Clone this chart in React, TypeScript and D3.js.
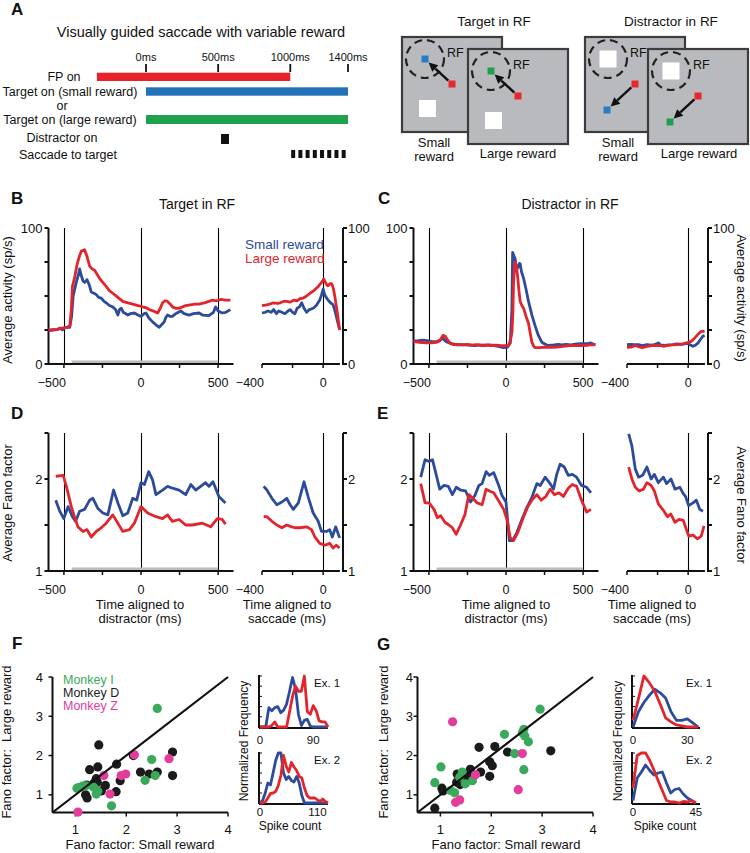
import React from "react";
import * as d3 from "d3";

type Pt = [number, number];
const FONT = "'Liberation Sans', Arial, Helvetica, sans-serif";
const RED = "#e2252c";
const BLUE = "#2c4b9d";
const GREEN_S = "#3aa95c";
const BLACK_S = "#1b1b1b";
const MAG_S = "#e33c9b";

// ---------- Panel A data ----------
const timelineTicks = [0, 500, 1000, 1400];
const fpOn: [number, number] = [-340, 1000];
const targetOn: [number, number] = [0, 1400];
const distractorOn: [number, number] = [520, 575];
const saccadeTimes = [1020, 1070, 1120, 1170, 1220, 1270, 1320, 1370];

// ---------- Panel B (activity, target in RF) ----------
const bSmallL: Pt[] = [[-600,24.5],[-570,25],[-540,25.5],[-525,26.5],[-510,25],[-490,27],[-462,27],[-450,35],[-440,50],[-420,60],[-405,66],[-398,70],[-390,66],[-376,61],[-365,60],[-350,62],[-335,58],[-323,53],[-305,52],[-290,51],[-275,49],[-258,48.5],[-240,46],[-226,45],[-205,43],[-183,42],[-165,40],[-150,36],[-140,40],[-128,41],[-115,38],[-85,36],[-70,37],[-43,37.5],[-20,36],[0,35],[20,37],[32,37.5],[50,34],[75,31],[95,29],[118,27],[135,29],[151,31],[160,34],[172,36],[190,35],[204,35],[225,37],[258,39],[280,37],[312,36],[340,37],[376,37.5],[400,36],[440,35.5],[470,38],[484,42],[500,39],[527,37.5],[550,38],[580,40]];
const bLargeL: Pt[] = [[-600,25],[-540,25.5],[-505,26.5],[-480,27],[-462,28],[-452,40],[-445,57],[-430,64],[-413,74],[-400,79],[-387,83],[-366,84],[-350,79],[-333,72],[-318,70],[-301,69],[-285,66],[-269,63],[-248,60],[-226,57],[-205,54],[-183,52],[-150,49],[-118,46],[-85,45],[-54,44],[-20,43],[11,42],[30,41.5],[54,40],[80,39],[108,37.5],[125,41],[140,45],[155,46.5],[172,46],[190,44],[204,42],[225,41],[247,41],[270,42],[290,43],[320,43.5],[350,44],[376,44],[410,45],[440,46],[462,47],[490,46.5],[520,47.5],[548,47],[580,47]];
const bSmallR: Pt[] = [[-400,37.5],[-380,38],[-360,39],[-340,38],[-324,40],[-305,37],[-290,39],[-270,38],[-250,37],[-230,39],[-216,40],[-200,38],[-185,37],[-170,41],[-155,42],[-140,45],[-125,41],[-108,38],[-90,40],[-65,41],[-45,43],[-22,47],[-10,51],[0,55],[10,51],[20,49],[32,47],[48,45],[65,43.6],[80,38],[95,31],[108,25]];
const bLargeR: Pt[] = [[-400,43],[-370,43.5],[-350,44],[-324,45],[-300,44.5],[-280,45],[-260,46],[-238,46],[-215,45.5],[-190,47],[-170,46.5],[-151,48],[-130,48.5],[-108,50],[-86,52],[-60,54],[-32,57],[-10,60],[4,62.5],[15,60],[25,58],[32,57.5],[45,59],[55,59],[60,58],[68,55],[76,50],[90,40],[108,25]];

// ---------- Panel C (activity, distractor in RF) ----------
const cSmallL: Pt[] = [[-600,17],[-570,17.2],[-540,17.5],[-510,17.2],[-480,16.5],[-450,16.5],[-420,18],[-409,19],[-395,17],[-381,16],[-350,15],[-320,14],[-290,14.2],[-260,14],[-230,13.8],[-200,13.6],[-170,14],[-140,13.6],[-110,14],[-80,13.6],[-50,13],[-15,12],[10,12.5],[28,15.5],[38,40],[43,82],[50,80],[60,77],[65,72],[72,70],[80,72],[88,74],[92,73.5],[100,68],[114,63],[130,55],[146,46],[168,36],[189,28],[210,21],[232,16],[255,14.5],[275,13.6],[310,14],[340,14.5],[360,14],[390,14.5],[420,14],[460,14.8],[490,15],[530,15],[550,15.5],[570,14.5],[580,14.3]];
const cLargeL: Pt[] = [[-600,16.5],[-560,16],[-520,15.5],[-480,15.5],[-450,16],[-430,17],[-420,19],[-409,21],[-395,20.5],[-381,18],[-360,15],[-340,14.3],[-310,14.5],[-280,14],[-250,14.5],[-220,13.8],[-190,14.2],[-160,13.6],[-130,14],[-100,13.6],[-70,13.8],[-40,13.6],[-10,13.5],[17,13.6],[30,18],[39,23.5],[45,40],[49,60],[55,70],[60,75],[67,72],[75,65],[83,55],[92,46],[103,43],[114,41],[130,35],[146,30],[158,22],[168,16],[180,13],[189,12],[220,12],[260,12.5],[297,12.3],[330,12.5],[370,13],[410,13.6],[450,13.5],[490,13.6],[530,13.8],[560,14.3],[580,14]];
const cSmallR: Pt[] = [[-400,14.3],[-380,14.5],[-350,14.3],[-324,14.3],[-300,13.6],[-270,14.3],[-240,13.8],[-215,14.5],[-195,15.5],[-180,14],[-151,13.6],[-125,14],[-100,14.3],[-76,14.8],[-40,14.5],[-20,15],[0,15],[15,14],[32,13],[50,14],[65,15.5],[80,18],[97,20.5],[108,21]];
const cLargeR: Pt[] = [[-400,12.3],[-370,12.5],[-345,13.6],[-320,12.5],[-300,12],[-270,13],[-240,13.6],[-210,13.5],[-185,13.6],[-160,13],[-130,13.8],[-100,14],[-75,14.3],[-50,14.5],[-30,14.8],[-11,15.5],[5,16],[22,16.8],[38,18.5],[54,20.5],[70,22.5],[86,24],[108,24]];

// ---------- Panel D (Fano, target in RF) ----------
const dSmallL: Pt[] = [[-553,1.77],[-527,1.65],[-501,1.57],[-473,1.70],[-445,1.59],[-424,1.54],[-398,1.65],[-366,1.67],[-333,1.77],[-312,1.79],[-280,1.68],[-247,1.63],[-215,1.61],[-178,1.88],[-150,1.74],[-118,1.60],[-86,1.63],[-54,1.79],[-28,1.77],[0,1.96],[22,1.94],[50,2.08],[75,1.99],[97,1.83],[140,1.88],[172,1.92],[204,1.90],[247,1.88],[290,1.83],[323,1.94],[355,1.88],[387,1.92],[419,1.96],[441,1.92],[467,1.97],[505,1.81],[548,1.74]];
const dLargeL: Pt[] = [[-553,2.03],[-505,2.04],[-484,1.92],[-452,1.70],[-430,1.58],[-409,1.48],[-376,1.43],[-350,1.45],[-323,1.37],[-290,1.43],[-258,1.47],[-226,1.52],[-183,1.61],[-150,1.52],[-118,1.43],[-75,1.45],[-43,1.52],[0,1.70],[43,1.63],[97,1.59],[140,1.57],[172,1.61],[204,1.54],[247,1.56],[290,1.50],[333,1.50],[398,1.52],[452,1.48],[495,1.57],[527,1.56],[548,1.51]];
const dSmallR: Pt[] = [[-389,1.92],[-368,1.88],[-335,1.79],[-303,1.72],[-270,1.75],[-238,1.79],[-216,1.72],[-195,1.67],[-162,1.74],[-125,1.97],[-97,1.80],[-65,1.63],[-32,1.54],[-11,1.43],[22,1.43],[43,1.45],[60,1.37],[82,1.48],[108,1.36]];
const dLargeR: Pt[] = [[-389,1.59],[-368,1.59],[-335,1.54],[-303,1.50],[-270,1.47],[-238,1.50],[-205,1.48],[-184,1.47],[-151,1.47],[-108,1.48],[-76,1.45],[-54,1.37],[-22,1.30],[11,1.28],[43,1.30],[65,1.25],[86,1.28],[108,1.25]];

// ---------- Panel E (Fano, distractor in RF) ----------
const eSmallL: Pt[] = [[-553,2.02],[-525,2.21],[-499,2.19],[-477,2.21],[-456,2.07],[-430,1.89],[-402,1.93],[-374,1.92],[-348,1.83],[-323,1.91],[-295,1.88],[-262,1.87],[-230,1.75],[-202,1.82],[-176,1.93],[-155,1.95],[-129,2.08],[-108,2.04],[-80,2.07],[-47,1.93],[-26,1.82],[0,1.75],[22,1.33],[43,1.33],[71,1.42],[103,1.56],[135,1.69],[168,1.80],[200,1.95],[222,1.93],[254,2.02],[286,1.95],[308,1.89],[329,2.05],[351,2.16],[378,2.13],[404,2.04],[430,2.05],[458,2.02],[490,1.93],[523,1.91],[551,1.85]];
const eLargeL: Pt[] = [[-553,1.95],[-525,1.74],[-499,1.74],[-467,1.67],[-445,1.58],[-424,1.60],[-396,1.53],[-370,1.50],[-348,1.47],[-323,1.40],[-295,1.50],[-267,1.61],[-241,1.83],[-215,1.79],[-187,1.74],[-155,1.72],[-129,1.89],[-108,1.87],[-80,1.85],[-47,1.76],[-15,1.67],[6,1.56],[28,1.36],[49,1.33],[77,1.42],[114,1.59],[142,1.70],[168,1.77],[200,1.83],[228,1.77],[258,1.81],[286,1.89],[314,1.83],[344,1.85],[372,1.81],[404,1.90],[430,1.94],[458,1.92],[490,1.77],[523,1.64],[551,1.67]];
const eSmallR: Pt[] = [[-389,2.49],[-368,2.36],[-346,2.11],[-324,2.02],[-298,2.04],[-270,2.13],[-242,2.0],[-221,2.05],[-195,1.96],[-162,2.02],[-141,1.95],[-112,2.0],[-86,1.89],[-54,1.91],[-32,1.84],[-17,1.81],[4,1.71],[32,1.74],[54,1.77],[76,1.67],[97,1.65]];
const eLargeR: Pt[] = [[-389,2.13],[-368,2.0],[-346,1.91],[-320,1.87],[-292,1.89],[-270,1.96],[-242,1.93],[-221,1.87],[-195,1.73],[-162,1.66],[-135,1.59],[-114,1.62],[-86,1.53],[-60,1.56],[-32,1.55],[-11,1.45],[4,1.38],[32,1.39],[60,1.35],[86,1.38],[104,1.49]];

// ---------- Panel F scatter ----------
const fMonkeyI: Pt[] = [[2.61,3.20],[2.50,1.90],[2.37,1.37],[2.57,1.49],[1.03,1.17],[1.08,1.19],[1.14,1.22],[1.20,1.23],[1.36,1.19],[1.41,1.02],[1.44,1.09],[1.71,0.72]];
const fMonkeyD: Pt[] = [[1.46,2.27],[2.14,2.00],[2.91,2.09],[2.91,1.49],[2.28,1.58],[2.45,1.53],[2.61,1.58],[1.81,1.78],[1.28,1.64],[1.44,1.71],[1.41,1.41],[1.43,1.32],[1.22,1.25],[1.20,1.00],[1.23,0.92],[1.59,1.24],[1.51,1.10],[1.88,1.36],[1.80,1.08],[1.36,1.29]];
const fMonkeyZ: Pt[] = [[1.05,0.56],[2.84,1.92],[1.99,1.53],[1.90,1.49],[1.56,1.49],[1.68,1.02],[2.16,2.02]];

// ---------- Panel G scatter ----------
const gMonkeyI: Pt[] = [[2.96,3.18],[2.64,2.67],[2.61,2.58],[2.66,2.50],[2.73,2.35],[2.26,2.54],[2.46,2.05],[2.64,1.64],[1.01,1.71],[0.89,1.31],[1.20,1.11],[1.28,1.05],[1.43,1.58],[1.49,1.28],[1.63,1.36],[1.38,1.45]];
const gMonkeyD: Pt[] = [[3.17,2.12],[2.32,2.09],[2.07,2.23],[1.76,2.21],[1.97,1.84],[2.02,1.74],[1.97,1.47],[1.79,1.58],[1.59,1.65],[1.58,1.56],[1.33,1.53],[1.32,1.32],[1.39,1.26],[1.03,1.17],[1.05,1.10],[0.89,0.66],[1.50,1.45]];
const gMonkeyZ: Pt[] = [[1.24,2.86],[2.61,2.05],[2.53,1.13],[1.30,0.81],[1.38,0.87],[1.69,1.51]];

// ---------- Histogram insets ----------
const fEx1Bins = [0,5,10,15,20,25,30,35,40,45,50,55,60,65,70,75,80,85,90,95,100,105,110,115];
const fEx1Small = [0,0,0.02,0.38,0.32,0.38,0.4,0.28,0.33,0.45,0.7,0.97,0.75,0.25,0.03,0.13,0.15,0.02,0,0,0,0,0,0];
const fEx1Large = [0,0,0,0,0.03,0.1,0,0,0,0,0.3,0.6,0.8,0.7,0.7,1.0,0.3,0.25,0.42,0.32,0.12,0.1,0.1,0];
const fEx2Bins = [0,5,10,15,20,25,30,35,40,45,50,55,60,65,70,75,80,85,90,95,100,105,110,115,120,125,130];
const fEx2Small = [0,0.05,0.2,0.4,0.36,0.6,0.85,1.0,1.0,0.6,0.47,0.53,0.45,0.42,0.53,0.4,0.15,0,0,0,0,0,0,0,0,0,0];
const fEx2Large = [0,0,0.02,0.1,0.19,0.2,0.23,0.35,0.55,0.95,0.74,0.62,0.81,0.72,0.65,0.53,0.5,0.3,0.15,0.1,0.1,0.1,0.06,0.03,0.08,0.03,0];
const gEx1Bins = [0,3,6,9,12,15,18,21,24,27,30,33,36];
const gEx1Small = [0,0.3,0.48,0.62,0.74,0.67,0.57,0.3,0.13,0.13,0.16,0.08,0];
const gEx1Large = [0.13,0.55,1.0,0.87,0.7,0.45,0.18,0.1,0.04,0.02,0,0,0];
const gEx2Bins = [0,3,6,9,12,15,18,21,24,27,30,33,36,39,42,45];
const gEx2Small = [0.05,0.5,0.62,0.76,0.65,0.56,0.6,0.62,0.4,0.2,0.27,0.29,0.18,0.1,0.05,0];
const gEx2Large = [0.3,0.95,1.0,1.0,0.85,0.66,0.45,0.25,0.05,0.02,0.02,0,0.03,0.02,0.05,0];

const fmt = (v: number) => (v < 0 ? "\u2212" + Math.abs(v) : String(v));

function T(props: any) {
  const { children, ...rest } = props;
  return (
    <text fontFamily={FONT} fill="#111" {...rest}>
      {children}
    </text>
  );
}

function TimePanel(p: {
  ox: number; yTop: number; yBot: number; yDomain: [number, number];
  yTicks: number[]; yLabeled: number[];
  sL: Pt[]; lL: Pt[]; sR: Pt[]; lR: Pt[];
}) {
  const xl = d3.scaleLinear().domain([-600, 600]).range([48.5 + p.ox, 233.5 + p.ox]);
  const xr = d3.scaleLinear().domain([-400, 130]).range([262 + p.ox, 343 + p.ox]);
  const y = d3.scaleLinear().domain(p.yDomain).range([p.yBot, p.yTop]);
  const lineL = d3.line<Pt>().x((d) => xl(d[0])).y((d) => y(d[1]));
  const lineR = d3.line<Pt>().x((d) => xr(d[0])).y((d) => y(d[1]));
  const xLeftTicks = [-500, -250, 0, 250, 500];
  const xLeftLabels = [-500, 0, 500];
  const xRightTicks = [-400, -200, 0];
  const xRightLabels = [-400, 0];
  const yAxisX = xl(-600);
  const yAxisR = xr(130);
  const lab = (v: number) => (Number.isInteger(v) ? String(v) : v.toFixed(1));
  const LW = 2.8;
  return (
    <g>
      {/* guide lines */}
      {[-500, 0, 500].map((t) => (
        <line key={"gl" + t} x1={Math.round(xl(t)) + 0.5} x2={Math.round(xl(t)) + 0.5} y1={p.yTop} y2={p.yBot} stroke="#000" strokeWidth={1.1} />
      ))}
      <line x1={Math.round(xr(0)) + 0.5} x2={Math.round(xr(0)) + 0.5} y1={p.yTop} y2={p.yBot} stroke="#000" strokeWidth={1.1} />
      {/* gray epoch bar */}
      <rect x={xl(-450)} y={p.yBot - 3.5} width={xl(500) - xl(-450)} height={3} fill="#bcbcbc" />
      {/* left axes */}
      <line x1={yAxisX} x2={yAxisX} y1={p.yTop} y2={p.yBot + 1} stroke="#111" strokeWidth={2} />
      <line x1={yAxisX - 1} x2={xl(600)} y1={p.yBot} y2={p.yBot} stroke="#111" strokeWidth={2} />
      {p.yTicks.map((t) => (
        <line key={"yt" + t} x1={yAxisX - 4} x2={yAxisX} y1={y(t)} y2={y(t)} stroke="#111" strokeWidth={2} />
      ))}
      {p.yLabeled.map((t) => (
        <T key={"yl" + t} x={yAxisX - 6} y={y(t) + 4.5} fontSize={13} textAnchor="end">{lab(t)}</T>
      ))}
      {xLeftTicks.map((t) => (
        <line key={"xt" + t} x1={xl(t)} x2={xl(t)} y1={p.yBot} y2={p.yBot + 4} stroke="#111" strokeWidth={1.5} />
      ))}
      {xLeftLabels.map((t) => (
        <T key={"xl" + t} x={t < 0 ? xl(t) + 2 : xl(t)} y={p.yBot + 22.5} fontSize={12.5} textAnchor={t < 0 ? "end" : "middle"}>{fmt(t)}</T>
      ))}
      {/* right axes */}
      <line x1={xr(-400)} x2={xr(110)} y1={p.yBot} y2={p.yBot} stroke="#111" strokeWidth={2} />
      <line x1={yAxisR} x2={yAxisR} y1={p.yTop} y2={p.yBot + 1} stroke="#111" strokeWidth={2} />
      {p.yTicks.map((t) => (
        <line key={"ryt" + t} x1={yAxisR} x2={yAxisR + 4} y1={y(t)} y2={y(t)} stroke="#111" strokeWidth={2} />
      ))}
      {p.yLabeled.map((t) => (
        <T key={"ryl" + t} x={yAxisR + 5} y={y(t) + 4.5} fontSize={13} textAnchor="start">{lab(t)}</T>
      ))}
      {xRightTicks.map((t) => (
        <line key={"rxt" + t} x1={xr(t)} x2={xr(t)} y1={p.yBot} y2={p.yBot + 4} stroke="#111" strokeWidth={1.5} />
      ))}
      {xRightLabels.map((t) => (
        <T key={"rxl" + t} x={t < 0 ? xr(t) + 2 : xr(t)} y={p.yBot + 22.5} fontSize={12.5} textAnchor={t < 0 ? "end" : "middle"}>{fmt(t)}</T>
      ))}
      {/* data */}
      <path d={lineL(p.sL) || ""} fill="none" stroke={BLUE} strokeWidth={LW} strokeLinejoin="round" />
      <path d={lineL(p.lL) || ""} fill="none" stroke={RED} strokeWidth={LW} strokeLinejoin="round" />
      <path d={lineR(p.sR) || ""} fill="none" stroke={BLUE} strokeWidth={LW} strokeLinejoin="round" />
      <path d={lineR(p.lR) || ""} fill="none" stroke={RED} strokeWidth={LW} strokeLinejoin="round" />
    </g>
  );
}

function Scatter(p: { ox: number; I: Pt[]; D: Pt[]; Z: Pt[]; labelRight: number; legend: boolean }) {
  const x = d3.scaleLinear().domain([0.55, 4]).range([52.5 + p.ox, 228 + p.ox]);
  const y = d3.scaleLinear().domain([0.55, 4]).range([812.5, 677]);
  const ticks = [1, 2, 3, 4];
  const dots = (arr: Pt[], c: string, k: string) =>
    arr.map((d, i) => <circle key={k + i} cx={x(d[0])} cy={y(d[1])} r={4.6} fill={c} />);
  return (
    <g>
      <line x1={x(0.55)} x2={x(0.55)} y1={y(4)} y2={y(0.55)} stroke="#111" strokeWidth={2} />
      <line x1={x(0.55)} x2={x(4)} y1={y(0.55)} y2={y(0.55)} stroke="#111" strokeWidth={2} />
      {ticks.map((t) => (
        <g key={"t" + t}>
          <line x1={x(t)} x2={x(t)} y1={y(0.55)} y2={y(0.55) + 4} stroke="#111" strokeWidth={1.5} />
          <line x1={x(0.55) - 4} x2={x(0.55)} y1={y(t)} y2={y(t)} stroke="#111" strokeWidth={1.5} />
          <T x={x(t)} y={834} fontSize={13} textAnchor="middle">{t}</T>
          <T x={p.labelRight} y={y(t) + 4.5} fontSize={13} textAnchor="end">{t}</T>
        </g>
      ))}
      {dots(p.D, BLACK_S, "d")}
      {dots(p.I, GREEN_S, "i")}
      {dots(p.Z, MAG_S, "z")}
      <line x1={x(0.55)} y1={y(0.55)} x2={x(4)} y2={y(4)} stroke="#111" strokeWidth={2.2} />
      {p.legend && (
        <g>
          <T x={63 + p.ox} y={684} fontSize={12.5} fill={GREEN_S}>Monkey I</T>
          <T x={63 + p.ox} y={697} fontSize={12.5} fill={BLACK_S}>Monkey D</T>
          <T x={63 + p.ox} y={710} fontSize={12.5} fill={MAG_S}>Monkey Z</T>
        </g>
      )}
    </g>
  );
}

function Hist(p: { x0: number; x1: number; yTop: number; yBot: number; xMax: number; bins: number[]; small: number[]; large: number[]; tickR: number; ex: string; lblY: number }) {
  const x = d3.scaleLinear().domain([0, p.xMax]).range([p.x0 + 1, p.x1]);
  const y = d3.scaleLinear().domain([0, 1]).range([p.yBot - 1, p.yTop + 1]);
  const ln = d3.line<number>().x((_, i) => x(p.bins[i])).y((d) => y(d));
  const yt = [0.2, 0.4, 0.6, 0.8, 1.0];
  return (
    <g>
      <line x1={p.x0} x2={p.x0} y1={p.yTop} y2={p.yBot} stroke="#111" strokeWidth={2} />
      <line x1={p.x0} x2={p.x1} y1={p.yBot} y2={p.yBot} stroke="#111" strokeWidth={2} />
      {yt.map((t) => (
        <line key={t} x1={p.x0} x2={p.x0 + 3} y1={y(t)} y2={y(t)} stroke="#111" strokeWidth={1} />
      ))}
      <path d={ln(p.small) || ""} fill="none" stroke={BLUE} strokeWidth={2.8} strokeLinejoin="round" />
      <path d={ln(p.large) || ""} fill="none" stroke={RED} strokeWidth={2.8} strokeLinejoin="round" />
      <T x={x(0)} y={p.lblY} fontSize={11.5} textAnchor="middle">0</T>
      <T x={x(p.tickR)} y={p.lblY} fontSize={11.5} textAnchor="middle">{p.tickR}</T>
      <T x={p.x1 - 14} y={p.yTop + 12} fontSize={11.5} textAnchor="start">{p.ex}</T>
    </g>
  );
}

function Diagram(p: { bx: number; by: number; kind: "target" | "distractor"; tColor: string }) {
  const W = 100, H = 95;
  const cx = p.bx + 23, cy = p.by + 22;
  const fx = p.bx + 50, fy = p.by + 47;
  const tx = p.kind === "target" ? cx : p.bx + 22;
  const ty = p.kind === "target" ? cy : p.by + 73;
  const wx = p.kind === "target" ? p.bx + 17 : cx - 8.5;
  const wy = p.kind === "target" ? p.by + 63 : cy - 8.5;
  const dx = tx - fx, dy = ty - fy;
  const L = Math.hypot(dx, dy);
  const ux = dx / L, uy = dy / L;
  const sx = fx + ux * 5, sy = fy + uy * 5;
  const ex = tx - ux * 5, ey = ty - uy * 5;
  const hx = ex - ux * 9, hy = ey - uy * 9;
  const px = -uy, py = ux;
  return (
    <g>
      <rect x={p.bx} y={p.by} width={W} height={H} fill="#b9babd" stroke="#3c3c3c" strokeWidth={2.2} />
      <circle cx={cx} cy={cy} r={19} fill="none" stroke="#222" strokeWidth={2.2} strokeDasharray="8,5" />
      <T x={p.bx + 45} y={p.by + 20} fontSize={12.5}>RF</T>
      <rect x={wx} y={wy} width={17} height={17} fill="#fff" />
      <line x1={sx} y1={sy} x2={hx} y2={hy} stroke="#111" strokeWidth={2.4} />
      <polygon points={`${ex},${ey} ${hx + px * 4.5},${hy + py * 4.5} ${hx - px * 4.5},${hy - py * 4.5}`} fill="#111" />
      <rect x={tx - 3.5} y={ty - 3.5} width={7} height={7} fill={p.tColor} />
      <rect x={fx - 3.5} y={fy - 3.5} width={7} height={7} fill="#e8262c" />
    </g>
  );
}

export default function App() {
  const tx = d3.scaleLinear().domain([0, 1400]).range([146, 348]);
  return (
    <svg width={750} height={853} viewBox="0 0 750 853" style={{ display: "block", position: "absolute", left: 0, top: 0, background: "#fff" }}>
      <rect x={0} y={0} width={750} height={853} fill="#fff" />
      {/* Panel letters */}
      <g fontWeight="bold" fontSize={17}>
        <T x={11} y={15}>A</T>
        <T x={11} y={204}>B</T>
        <T x={378} y={204}>C</T>
        <T x={11} y={419}>D</T>
        <T x={377} y={419}>E</T>
        <T x={12} y={649}>F</T>
        <T x={377} y={650}>G</T>
      </g>

      {/* Panel A timeline */}
      <T x={201} y={37} fontSize={14.5} textAnchor="middle">Visually guided saccade with variable reward</T>
      {timelineTicks.map((t) => (
        <g key={"tt" + t}>
          <T x={tx(t)} y={61} fontSize={11} textAnchor="middle">{t + "ms"}</T>
          <line x1={tx(t)} x2={tx(t)} y1={64} y2={72} stroke="#111" strokeWidth={1.8} />
        </g>
      ))}
      <rect x={tx(fpOn[0])} y={72.7} width={tx(fpOn[1]) - tx(fpOn[0])} height={8.3} fill="#e8222b" />
      <rect x={tx(targetOn[0])} y={87.3} width={tx(targetOn[1]) - tx(targetOn[0])} height={8.4} fill="#2372b9" />
      <rect x={tx(targetOn[0])} y={115} width={tx(targetOn[1]) - tx(targetOn[0])} height={9} fill="#1fa24c" />
      <rect x={tx(distractorOn[0])} y={134} width={tx(distractorOn[1]) - tx(distractorOn[0])} height={10} fill="#111" />
      {saccadeTimes.map((t) => (
        <rect key={"s" + t} x={tx(t) - 2} y={150} width={4} height={8} fill="#111" />
      ))}
      <g>
        <T x={64} y={81} fontSize={12.5} textAnchor="middle">FP on</T>
        <T x={70} y={95.5} fontSize={12.5} textAnchor="middle">Target on (small reward)</T>
        <T x={62} y={110} fontSize={12.5} textAnchor="middle">or</T>
        <T x={70} y={124} fontSize={12.5} textAnchor="middle">Target on (large reward)</T>
        <T x={62} y={142} fontSize={12.5} textAnchor="middle">Distractor on</T>
        <T x={68} y={159} fontSize={12.5} textAnchor="middle">Saccade to target</T>
      </g>

      {/* Panel A diagrams */}
      <T x={494} y={26} fontSize={13.5} textAnchor="middle">Target in RF</T>
      <T x={671} y={26} fontSize={13.5} textAnchor="middle">Distractor in RF</T>
      <Diagram bx={402} by={37} kind="target" tColor="#2a7bc2" />
      <Diagram bx={468} by={49} kind="target" tColor="#1f9f4e" />
      <Diagram bx={585} by={37} kind="distractor" tColor="#2a7bc2" />
      <Diagram bx={648} by={49} kind="distractor" tColor="#1f9f4e" />
      <g>
        <T x={434} y={147} fontSize={13} textAnchor="middle">Small</T>
        <T x={434} y={161} fontSize={13} textAnchor="middle">reward</T>
        <T x={518} y={158} fontSize={13} textAnchor="middle">Large reward</T>
        <T x={618} y={147} fontSize={13} textAnchor="middle">Small</T>
        <T x={618} y={161} fontSize={13} textAnchor="middle">reward</T>
        <T x={699} y={158} fontSize={13} textAnchor="middle">Large reward</T>
      </g>

      {/* Titles B / C */}
      <T x={197} y={209} fontSize={14} textAnchor="middle">Target in RF</T>
      <T x={570} y={209} fontSize={14} textAnchor="middle">Distractor in RF</T>

      {/* B & C activity */}
      <TimePanel ox={0} yTop={228} yBot={364} yDomain={[0, 100]} yTicks={[0, 25, 50, 75, 100]} yLabeled={[0, 100]} sL={bSmallL} lL={bLargeL} sR={bSmallR} lR={bLargeR} />
      <TimePanel ox={365} yTop={228} yBot={364} yDomain={[0, 100]} yTicks={[0, 25, 50, 75, 100]} yLabeled={[0, 100]} sL={cSmallL} lL={cLargeL} sR={cSmallR} lR={cLargeR} />
      <T x={245} y={249} fontSize={13.5} fill={BLUE}>Small reward</T>
      <T x={245} y={263} fontSize={13.5} fill={RED}>Large reward</T>
      <T transform="translate(12,300) rotate(-90)" fontSize={13} textAnchor="middle">Average activity (sp/s)</T>
      <T transform="translate(737,298) rotate(90)" fontSize={13} textAnchor="middle">Average activity (sp/s)</T>

      {/* D & E fano */}
      <TimePanel ox={0} yTop={433} yBot={571} yDomain={[1, 2.5]} yTicks={[1, 1.5, 2, 2.5]} yLabeled={[1, 2]} sL={dSmallL} lL={dLargeL} sR={dSmallR} lR={dLargeR} />
      <TimePanel ox={365} yTop={433} yBot={571} yDomain={[1, 2.5]} yTicks={[1, 1.5, 2, 2.5]} yLabeled={[1, 2]} sL={eSmallL} lL={eLargeL} sR={eSmallR} lR={eLargeR} />
      <T transform="translate(12,503) rotate(-90)" fontSize={13} textAnchor="middle">Average Fano factor</T>
      <T transform="translate(737,505) rotate(90)" fontSize={13} textAnchor="middle">Average Fano factor</T>
      <g>
        <T x={140} y={609} fontSize={13} textAnchor="middle">Time aligned to</T>
        <T x={140} y={623} fontSize={13} textAnchor="middle">distractor (ms)</T>
        <T x={287} y={609} fontSize={13} textAnchor="middle">Time aligned to</T>
        <T x={287} y={623} fontSize={13} textAnchor="middle">saccade (ms)</T>
        <T x={506} y={609} fontSize={13} textAnchor="middle">Time aligned to</T>
        <T x={506} y={623} fontSize={13} textAnchor="middle">distractor (ms)</T>
        <T x={652} y={609} fontSize={13} textAnchor="middle">Time aligned to</T>
        <T x={652} y={623} fontSize={13} textAnchor="middle">saccade (ms)</T>
      </g>

      {/* F & G scatter */}
      <Scatter ox={0} I={fMonkeyI} D={fMonkeyD} Z={fMonkeyZ} labelRight={43} legend={true} />
      <Scatter ox={365} I={gMonkeyI} D={gMonkeyD} Z={gMonkeyZ} labelRight={413} legend={false} />
      <T x={140} y={849} fontSize={13} textAnchor="middle">Fano factor:  Small reward</T>
      <T x={506} y={849} fontSize={13} textAnchor="middle">Fano factor:  Small reward</T>
      <T transform="translate(11,742) rotate(-90)" fontSize={13} textAnchor="middle" style={{ whiteSpace: "pre" }}>Fano factor:  Large reward</T>
      <T transform="translate(388,742) rotate(-90)" fontSize={13} textAnchor="middle" style={{ whiteSpace: "pre" }}>Fano factor:  Large reward</T>

      {/* Insets */}
      <Hist x0={259} x1={328} yTop={675} yBot={728} xMax={115} bins={fEx1Bins} small={fEx1Small} large={fEx1Large} tickR={90} ex="Ex. 1" lblY={744} />
      <Hist x0={259} x1={328} yTop={752} yBot={804} xMax={130} bins={fEx2Bins} small={fEx2Small} large={fEx2Large} tickR={110} ex="Ex. 2" lblY={816} />
      <Hist x0={632} x1={700} yTop={675} yBot={728} xMax={37} bins={gEx1Bins} small={gEx1Small} large={gEx1Large} tickR={30} ex="Ex. 1" lblY={744} />
      <Hist x0={632} x1={700} yTop={752} yBot={804} xMax={48} bins={gEx2Bins} small={gEx2Small} large={gEx2Large} tickR={45} ex="Ex. 2" lblY={816} />
      <T x={290} y={830} fontSize={12} textAnchor="middle">Spike count</T>
      <T x={665} y={830} fontSize={12} textAnchor="middle">Spike count</T>
      <T transform="translate(248,741) rotate(-90)" fontSize={12} textAnchor="middle">Normalized Frequency</T>
      <T transform="translate(622,741) rotate(-90)" fontSize={12} textAnchor="middle">Normalized Frequency</T>
    </svg>
  );
}
